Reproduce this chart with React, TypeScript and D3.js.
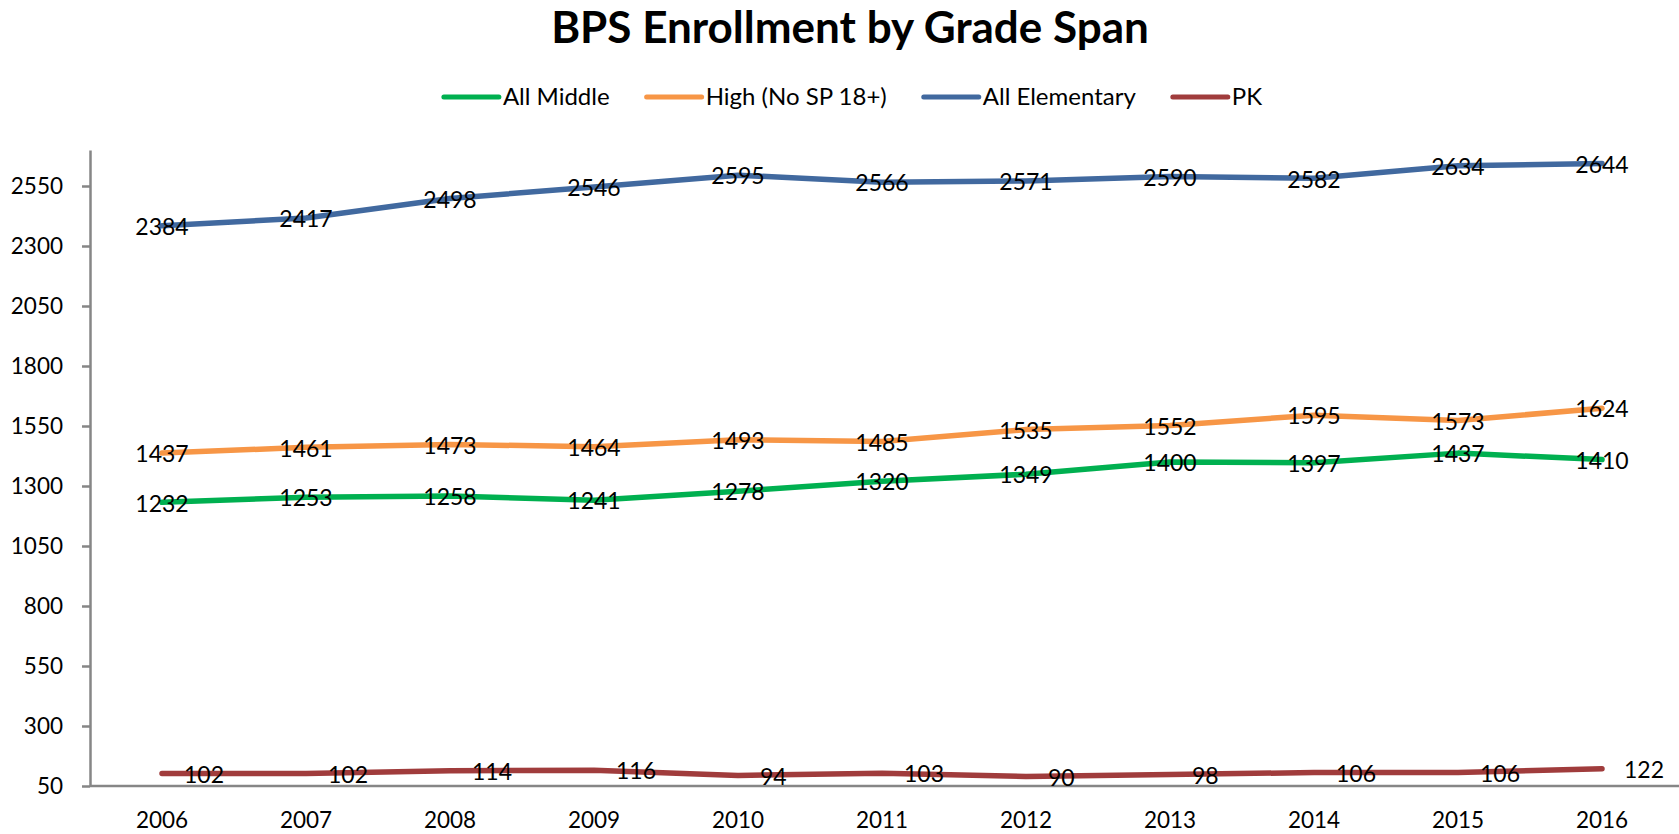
import React, { useEffect, useRef } from "react";
import * as d3 from "d3";

const WIDTH = 1679;
const HEIGHT = 834;
const PLOT = { left: 90, right: 1674, top: 150, bottom: 786 };
const FONT = "Lato, 'Open Sans', sans-serif";

const years = ["2006", "2007", "2008", "2009", "2010", "2011", "2012", "2013", "2014", "2015", "2016"];
const allMiddle = [1232, 1253, 1258, 1241, 1278, 1320, 1349, 1400, 1397, 1437, 1410];
const highSchool = [1437, 1461, 1473, 1464, 1493, 1485, 1535, 1552, 1595, 1573, 1624];
const allElementary = [2384, 2417, 2498, 2546, 2595, 2566, 2571, 2590, 2582, 2634, 2644];
const preK = [102, 102, 114, 116, 94, 103, 90, 98, 106, 106, 122];
const yTicks = [50, 300, 550, 800, 1050, 1300, 1550, 1800, 2050, 2300, 2550];

const series = [
  { name: "All Middle", values: allMiddle, color: "#00B050", labelPos: "center" },
  { name: "High (No SP 18+)", values: highSchool, color: "#F79646", labelPos: "center" },
  { name: "All Elementary", values: allElementary, color: "#41699F", labelPos: "center" },
  { name: "PK", values: preK, color: "#A03C3C", labelPos: "right" },
];

const App = () => {
  const axesRef = useRef<SVGGElement>(null);
  const legendRef = useRef<SVGGElement>(null);

  const xScale = d3.scaleBand().domain(years).range([PLOT.left, PLOT.right]);
  const xCenter = (y: string) => (xScale(y) || 0) + xScale.bandwidth() / 2;
  const yScale = d3.scaleLinear().domain([50, 2700]).range([PLOT.bottom, PLOT.top]);

  const line = d3
    .line<number>()
    .x((_, i) => xCenter(years[i]))
    .y((d) => yScale(d));

  useEffect(() => {
    const g = d3.select(axesRef.current);
    g.selectAll("*").remove();

    // y axis
    const yAxis = g
      .append("g")
      .attr("transform", `translate(${PLOT.left},0)`)
      .call(
        d3
          .axisLeft(yScale)
          .tickValues(yTicks)
          .tickFormat(d3.format("d"))
          .tickSize(8)
          .tickSizeOuter(0)
          .tickPadding(19)
      );
    yAxis.select(".domain").attr("stroke", "#868686").attr("stroke-width", 2.5);
    yAxis.selectAll(".tick line").attr("stroke", "#868686").attr("stroke-width", 2.5);
    yAxis
      .selectAll(".tick text")
      .attr("font-family", FONT)
      .attr("font-size", 22.5)
      .attr("fill", "#000");

    // x axis
    const xAxis = g
      .append("g")
      .attr("transform", `translate(0,${PLOT.bottom})`)
      .call(d3.axisBottom(xScale).tickSize(0).tickSizeOuter(0).tickPadding(26));
    xAxis
      .select(".domain")
      .attr("d", `M${PLOT.left},0H${WIDTH}`)
      .attr("stroke", "#868686")
      .attr("stroke-width", 2.5);
    xAxis
      .selectAll(".tick text")
      .attr("font-family", FONT)
      .attr("font-size", 22.5)
      .attr("fill", "#000");

    // legend, laid out by measured text width
    const lg = d3.select(legendRef.current);
    lg.selectAll("*").remove();
    let x = 0;
    series.forEach((s) => {
      const item = lg.append("g").attr("transform", `translate(${x},0)`);
      item
        .append("line")
        .attr("x1", 2)
        .attr("x2", 57)
        .attr("y1", 0)
        .attr("y2", 0)
        .attr("stroke", s.color)
        .attr("stroke-width", 5)
        .attr("stroke-linecap", "round");
      const t = item
        .append("text")
        .attr("x", 61)
        .attr("y", 8)
        .attr("font-family", FONT)
        .attr("font-size", 24)
        .attr("fill", "#000")
        .text(s.name);
      const w = (t.node() as SVGTextElement).getComputedTextLength();
      x += 61 + w + 35;
    });
    const total = x - 35;
    lg.attr("transform", `translate(${852 - total / 2},97)`);
  }, []);

  return (
    <svg
      width={WIDTH}
      height={HEIGHT}
      style={{ position: "absolute", left: 0, top: 0, background: "#fff" }}
    >
      <text
        x={850}
        y={43}
        textAnchor="middle"
        fontFamily={FONT}
        fontWeight="bold"
        fontSize={44}
        fill="#000"
      >
        BPS Enrollment by Grade Span
      </text>
      <g ref={legendRef} />
      <g ref={axesRef} />
      {series.map((s) => (
        <path
          key={s.name}
          d={line(s.values) || ""}
          fill="none"
          stroke={s.color}
          strokeWidth={5.5}
          strokeLinecap="round"
          strokeLinejoin="round"
        />
      ))}
      {series.map((s) => (
        <g key={s.name + "-labels"}>
          {s.values.map((v, i) => (
            <text
              key={i}
              x={s.labelPos === "right" ? xCenter(years[i]) + 22 : xCenter(years[i])}
              y={yScale(v)}
              dy="0.4em"
              textAnchor={s.labelPos === "right" ? "start" : "middle"}
              fontFamily={FONT}
              fontSize={23}
              fill="#000"
            >
              {v}
            </text>
          ))}
        </g>
      ))}
    </svg>
  );
};

export default App;
